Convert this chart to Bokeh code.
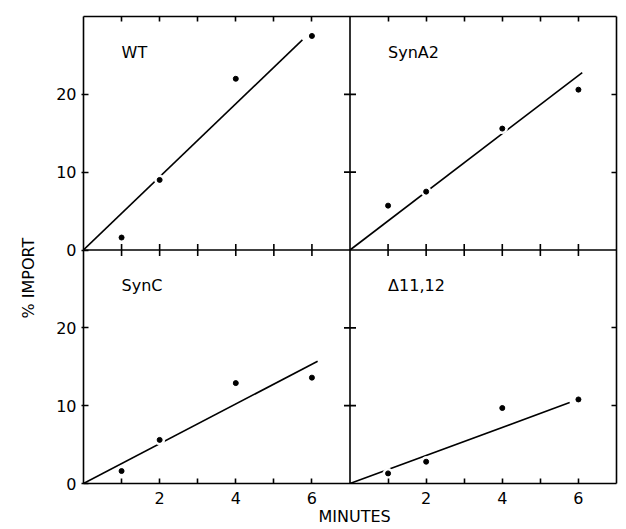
import numpy as np
from bokeh.plotting import figure
from bokeh.models import FixedTicker, LinearAxis, Range1d, Span, Title
from bokeh.embed import file_html
from bokeh.resources import INLINE
from bokeh.core.properties import value

# ---------------- data ----------------
panel_names = ["WT", "SynA2", "SynC", "Δ11,12"]
minutes = [1, 2, 4, 6]
wt_import = [1.6, 9.0, 22.0, 27.5]
syna2_import = [5.7, 7.5, 15.6, 20.6]
sync_import = [1.6, 5.6, 12.9, 13.6]
d1112_import = [1.3, 2.8, 9.7, 10.8]
# fitted lines start at the origin and end at these points
fit_end_minutes = [5.75, 6.1, 6.15, 5.77]
fit_end_import = [27.0, 22.8, 15.7, 10.4]
x_major_ticks = [2, 4, 6]          # labelled minute ticks
x_minor_ticks = [1, 3, 5]          # unlabelled minute ticks
x_tick_labels = ["2", "4", "6"]
y_tick_values = [0, 10, 20]
y_tick_labels = ["0", "10", "20"]
x_title = "MINUTES"
y_title = "% IMPORT"

PANEL_W = 7      # minutes spanned by one panel
PANEL_H = 30     # % import spanned by one panel
FONT = "DejaVu Sans"
LW = 1.6

series = [wt_import, syna2_import, sync_import, d1112_import]
offsets = [(0, PANEL_H), (PANEL_W, PANEL_H), (0, 0), (PANEL_W, 0)]

p = figure(width=618, height=526,
           x_range=Range1d(0, 2 * PANEL_W), y_range=Range1d(0, 2 * PANEL_H),
           output_backend="svg", toolbar_location=None,
           min_border_left=81, min_border_right=2,
           min_border_top=16, min_border_bottom=43)
p.grid.visible = False
p.outline_line_color = None
p.background_fill_color = "white"
p.border_fill_color = "white"

cols = (0, PANEL_W)
rows = (0, PANEL_H)
xmaj = [v + ox for ox in cols for v in x_major_ticks]
xmin = [v + ox for ox in cols for v in x_minor_ticks]
xall = sorted(xmaj + xmin)
xlab = {v + ox: lab for ox in cols for v, lab in zip(x_major_ticks, x_tick_labels)}
yt = [v + oy for oy in rows for v in y_tick_values]
ylab = {v + oy: lab for oy in rows for v, lab in zip(y_tick_values, y_tick_labels)}
y_inner = [v + oy for oy in rows for v in y_tick_values if v > 0]


def style_axis(ax, major, minor, tin=5, tout=0):
    ax.ticker = FixedTicker(ticks=major, minor_ticks=minor)
    ax.major_tick_in = tin
    ax.major_tick_out = tout
    ax.minor_tick_in = tin
    ax.minor_tick_out = tout
    for a in ("axis", "major_tick", "minor_tick"):
        setattr(ax, a + "_line_width", LW)
        setattr(ax, a + "_line_color", "black")
    ax.major_label_text_font = FONT
    ax.major_label_text_font_size = "16px"
    ax.major_label_text_color = "black"


bx = p.below[0]
style_axis(bx, xmaj, xmin, tin=5, tout=0)
bx.major_label_overrides = xlab
bx.major_label_standoff = 8

ly = p.left[0]
style_axis(ly, yt, [], tin=5, tout=2)
ly.major_label_overrides = ylab
ly.major_label_standoff = 5

top_ax = LinearAxis()
style_axis(top_ax, [], xall, tin=5, tout=0)
top_ax.major_label_standoff = 0
p.add_layout(top_ax, "above")
right_ax = LinearAxis()
style_axis(right_ax, [], y_inner, tin=5, tout=0)
right_ax.major_label_standoff = 0
p.add_layout(right_ax, "right")

# axis titles as side-panel titles (positioned along the axes like the reference)
p.add_layout(Title(text=y_title, align="left", offset=165, standoff=32,
                   text_font=FONT, text_font_size="16px", text_font_style="normal",
                   text_color="black"), "left")
p.add_layout(Title(text=x_title, align="left", offset=235, standoff=-4,
                   text_font=FONT, text_font_size="16px", text_font_style="normal",
                   text_color="black"), "below")

# internal dividers
p.add_layout(Span(location=PANEL_W, dimension="height", line_color="black", line_width=LW))
p.add_layout(Span(location=PANEL_H, dimension="width", line_color="black", line_width=LW))
# crossing ticks on the dividers
p.scatter([PANEL_W] * len(y_inner), y_inner, marker="dash", size=12,
          line_color="black", line_width=LW)
p.scatter(xall, [PANEL_H] * len(xall), marker="dash", angle=np.pi / 2, size=12,
          line_color="black", line_width=LW)

for name, ys, (ox, oy), ex, ey in zip(panel_names, series, offsets,
                                      fit_end_minutes, fit_end_import):
    xs = [m + ox for m in minutes]
    yv = [y + oy for y in ys]
    p.line([ox, ox + ex], [oy, oy + ey], line_color="black", line_width=LW)
    # white halo leaves a small gap in the line where a point lies on it
    p.scatter(xs, yv, size=10, fill_color="white", line_color="white")
    p.scatter(xs, yv, size=5, fill_color="black", line_color="black")
    p.text(x=[ox + 1], y=[oy + 25.4], text=[name], text_font=value(FONT),
           text_font_size="16px", text_align="left", text_baseline="middle",
           text_color="black")

open("out.html", "w").write(file_html(p, INLINE))
